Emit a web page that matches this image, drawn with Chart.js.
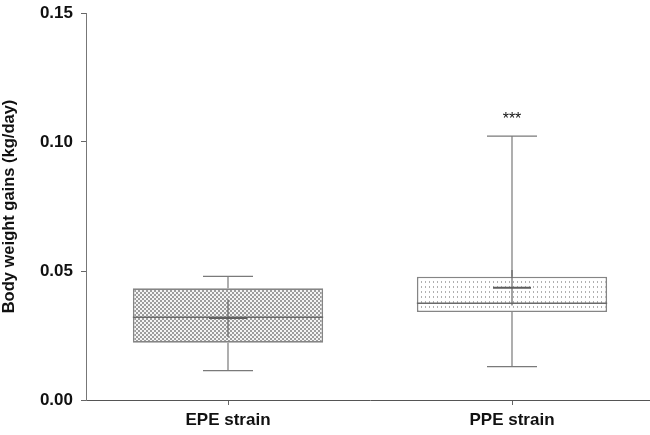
<!DOCTYPE html>
<html>
<head>
<meta charset="utf-8">
<script src="https://cdn.jsdelivr.net/npm/chart.js@4/dist/chart.umd.min.js"></script>
<style>
  html, body { margin: 0; padding: 0; background: #fff; overflow: hidden; }
  #wrap { width: 660px; height: 435px; position: relative; }
</style>
</head>
<body>
<div id="wrap"><canvas id="c"></canvas></div>
<script>
// Body weight gain distribution per strain (kg/day)
const categories = ['EPE strain', 'PPE strain'];
const whiskerLow  = [0.0114, 0.0129];
const quartile1   = [0.0222, 0.0341];
const medians     = [0.0321, 0.0375];
const quartile3   = [0.0433, 0.0478];
const whiskerHigh = [0.0479, 0.1023];
const means       = [0.0317, 0.0435];
const meanSpread  = [0.0073, 0.0069];
const significance = ['', '***'];
const yTicks = [0, 0.05, 0.10, 0.15];

const FONT = '"Liberation Sans", Arial, Helvetica, sans-serif';

function checkerPattern() {
  const p = document.createElement('canvas');
  p.width = 4; p.height = 4;
  const g = p.getContext('2d');
  g.fillStyle = '#f4f4f4'; g.fillRect(0, 0, 4, 4);
  g.fillStyle = '#9c9c9c';
  g.fillRect(0, 0, 2, 2); g.fillRect(2, 2, 2, 2);
  return g.createPattern(p, 'repeat');
}
function dotPattern() {
  const p = document.createElement('canvas');
  p.width = 4; p.height = 5;
  const g = p.getContext('2d');
  g.fillStyle = '#ffffff'; g.fillRect(0, 0, 4, 5);
  g.fillStyle = '#b0b0b0'; g.fillRect(1, 1, 1, 2);
  return g.createPattern(p, 'repeat');
}

// Whiskers, medians, mean crosses and significance marks
const boxExtras = {
  id: 'boxExtras',
  afterDatasetsDraw(chart) {
    const { ctx, scales: { x, y } } = chart;
    const meta = chart.getDatasetMeta(0);
    ctx.save();
    categories.forEach((cat, i) => {
      const bar = meta.data[i];
      const cx = x.getPixelForValue(i);
      const half = bar.width / 2;
      const yLo = y.getPixelForValue(whiskerLow[i]);
      const yHi = y.getPixelForValue(whiskerHigh[i]);
      const yQ1 = y.getPixelForValue(quartile1[i]);
      const yQ3 = y.getPixelForValue(quartile3[i]);
      const cap = 25;
      ctx.strokeStyle = '#7a7a7a';
      ctx.lineWidth = 1.2;
      ctx.beginPath();
      ctx.moveTo(cx, yQ3); ctx.lineTo(cx, yHi);
      ctx.moveTo(cx - cap, yHi); ctx.lineTo(cx + cap, yHi);
      ctx.moveTo(cx, yQ1); ctx.lineTo(cx, yLo);
      ctx.moveTo(cx - cap, yLo); ctx.lineTo(cx + cap, yLo);
      ctx.stroke();
      // median
      const yMed = y.getPixelForValue(medians[i]);
      ctx.strokeStyle = '#6a6a6a';
      ctx.lineWidth = 1.5;
      ctx.beginPath();
      ctx.moveTo(cx - half, yMed); ctx.lineTo(cx + half, yMed);
      ctx.stroke();
      // mean cross
      const yMean = y.getPixelForValue(means[i]);
      const yA = y.getPixelForValue(means[i] + meanSpread[i]);
      const yB = y.getPixelForValue(means[i] - meanSpread[i]);
      ctx.strokeStyle = '#666666';
      ctx.lineWidth = 1.2;
      ctx.beginPath();
      ctx.moveTo(cx, yA); ctx.lineTo(cx, yB);
      ctx.stroke();
      ctx.lineWidth = 1.8;
      ctx.strokeStyle = '#5e5e5e';
      ctx.beginPath();
      ctx.moveTo(cx - 19, yMean); ctx.lineTo(cx + 19, yMean);
      ctx.stroke();
      if (significance[i]) {
        ctx.fillStyle = '#111';
        ctx.font = '16px ' + FONT;
        ctx.textAlign = 'center';
        ctx.textBaseline = 'middle';
        ctx.fillText(significance[i], cx, yHi - 16);
      }
    });
    ctx.restore();
  }
};

new Chart(document.getElementById('c'), {
  type: 'bar',
  data: {
    labels: categories,
    datasets: [{
      data: quartile1.map((q, i) => [q, quartile3[i]]),
      backgroundColor: [checkerPattern(), dotPattern()],
      borderColor: '#858585',
      borderWidth: 1.6,
      borderSkipped: false,
      barPercentage: 0.67,
      categoryPercentage: 1.0
    }]
  },
  options: {
    responsive: true,
    maintainAspectRatio: false,
    animation: false,
    layout: { padding: { top: 13, right: 6, left: 0, bottom: 0 } },
    plugins: { legend: { display: false }, tooltip: { enabled: false } },
    scales: {
      x: {
        offset: true,
        grid: { display: true, offset: false, drawOnChartArea: false, tickLength: 5, color: '#666', lineWidth: 1 },
        border: { display: true, color: '#555', width: 1 },
        ticks: { color: '#111', font: { family: FONT, size: 17, weight: 'bold' }, padding: 5 },
        afterFit(s) { s.height = 35; s.paddingLeft = 0; s.paddingRight = 0; }
      },
      y: {
        min: 0, max: 0.15,
        afterBuildTicks(s) { s.ticks = yTicks.map(v => ({ value: v })); },
        grid: { display: true, drawOnChartArea: false, tickLength: 5, color: '#666', lineWidth: 1 },
        border: { display: true, color: '#777', width: 1 },
        ticks: {
          color: '#111', padding: 8,
          font: { family: FONT, size: 17, weight: 'bold' },
          callback: v => v.toFixed(2)
        },
        title: {
          display: true, text: 'Body weight gains (kg/day)', color: '#111',
          font: { family: FONT, size: 16.5, weight: 'bold' }, padding: { top: 0, bottom: 4 }
        },
        afterFit(s) { s.width = 86; s.paddingTop = 0; s.paddingBottom = 0; }
      }
    }
  },
  plugins: [boxExtras]
});
</script>
</body>
</html>
